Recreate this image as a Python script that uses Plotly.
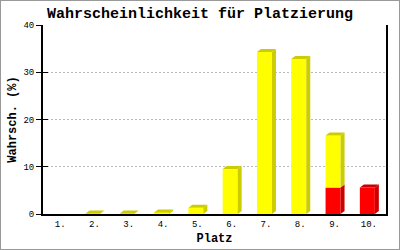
import plotly.graph_objects as go

# ---- data ----
categories = ["1.", "2.", "3.", "4.", "5.", "6.", "7.", "8.", "9.", "10."]
yellow_vals = [0.0, 0.1, 0.1, 0.3, 1.3, 9.5, 34.3, 32.8, 11.0, 0.0]
red_vals = [0.0, 0.0, 0.0, 0.0, 0.0, 0.0, 0.0, 0.0, 5.6, 5.6]
y_ticks = [0, 10, 20, 30, 40]

# ---- layout geometry (pixels) ----
W, H = 400, 250
ML, MR, MT, MB = 43, 14, 25, 36
PW, PH = W - ML - MR, H - MT - MB
YMAX = 40
n = len(categories)
ux = n / PW          # x data units per pixel
uy = YMAX / PH       # y data units per pixel
BAR_W = 15 * ux
BAR_OFF = -9 * ux
DX, DY = 4 * ux, 3 * uy

YEL, YEL_D = "#ffff00", "#cccc00"
RED, RED_D = "#ff0000", "#cc0000"

idx = list(range(n))
fig = go.Figure()

# side / top faces (3D depth)
def poly(xs, ys, color):
    fig.add_trace(go.Scatter(x=xs, y=ys, mode="lines", fill="toself",
                             fillcolor=color, line=dict(width=0, color=color),
                             hoverinfo="skip", showlegend=False,
                             xaxis="x", yaxis="y"))

for i in idx:
    r, yv = red_vals[i], yellow_vals[i]
    total = r + yv
    if total <= 0:
        continue
    xl = i + BAR_OFF
    xr = xl + BAR_W
    if r > 0:
        poly([xr, xr + DX, xr + DX, xr, xr], [0, DY, r + DY, r, 0], RED_D)
    if yv > 0:
        poly([xr, xr + DX, xr + DX, xr, xr], [r, r + DY, total + DY, total, r], YEL_D)
    topc = YEL_D if yv > 0 else RED_D
    poly([xl, xl + DX, xr + DX, xr, xl], [total, total + DY, total + DY, total, total], topc)

# front faces
fig.add_trace(go.Bar(x=idx, y=red_vals, width=BAR_W, offset=BAR_OFF,
                     marker=dict(color=RED, line=dict(width=0)), showlegend=False))
fig.add_trace(go.Bar(x=idx, y=yellow_vals, base=red_vals, width=BAR_W, offset=BAR_OFF,
                     marker=dict(color=YEL, line=dict(width=0)), showlegend=False))

# invisible trace to activate inside-ticks overlay axis
fig.add_trace(go.Scatter(x=[0], y=[0], yaxis="y2", mode="markers",
                         marker=dict(opacity=0), hoverinfo="skip", showlegend=False))

mono = "Liberation Mono"
fig.update_layout(
    width=W, height=H,
    margin=dict(l=ML, r=MR, t=MT, b=MB, autoexpand=False),
    paper_bgcolor="white", plot_bgcolor="white",
    barmode="overlay", showlegend=False,
    title=dict(text="<b>Wahrscheinlichkeit für Platzierung</b>",
               x=0.5, xanchor="center", y=1 - 13 / H, yanchor="middle",
               font=dict(family=mono, size=15, color="black")),
    xaxis=dict(range=[-0.5, n - 0.5], tickvals=idx, ticktext=categories,
               showgrid=False, zeroline=False, automargin=False,
               showline=True, linecolor="black", linewidth=2,
               ticks="",
               tickfont=dict(family=mono, size=9, color="black"),
               title=dict(text="<b>Platz</b>", standoff=5,
                          font=dict(family=mono, size=12, color="black"))),
    yaxis=dict(range=[0, YMAX], tickvals=y_ticks, showgrid=True, automargin=False,
               gridcolor="#bbbbbb", griddash="2px,2px", gridwidth=1,
               zeroline=False, showline=True, linecolor="black", linewidth=2,
               mirror=True, ticks="outside", ticklen=5, tickcolor="black",
               tickfont=dict(family=mono, size=9, color="black"),
               title=dict(text="<b>Wahrsch. (%)</b>", standoff=4,
                          font=dict(family=mono, size=12, color="black"))),
    yaxis2=dict(range=[0, YMAX], overlaying="y", side="left", tickvals=y_ticks,
                ticks="inside", ticklen=5, tickcolor="black", automargin=False,
                showticklabels=False, showgrid=False, zeroline=False, showline=False),
    shapes=[dict(type="rect", xref="paper", yref="paper",
                 x0=-ML / PW, x1=1 + MR / PW, y0=-MB / PH, y1=1 + MT / PH,
                 line=dict(color="#999999", width=2), fillcolor="rgba(0,0,0,0)",
                 layer="above")],
)

fig.write_html("out.html")
